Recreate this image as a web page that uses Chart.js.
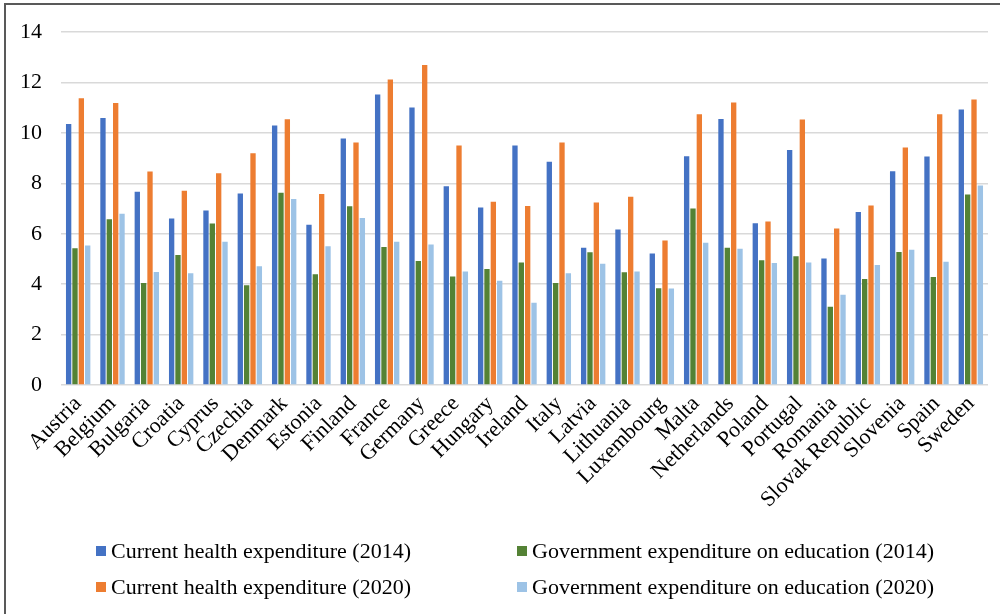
<!DOCTYPE html>
<html>
<head>
<meta charset="utf-8">
<script src="https://cdn.jsdelivr.net/npm/chart.js@4/dist/chart.umd.min.js"></script>
<style>
  html, body { margin: 0; padding: 0; background: #fff; }
  #wrap { position: relative; width: 1000px; height: 614px; overflow: hidden; font-family: "Liberation Serif", "Times New Roman", serif; }
  #frame { position: absolute; left: 4px; top: 3px; right: -10px; bottom: -10px; border-left: 2px solid #595959; border-top: 2px solid #595959; }
  #chart { position: absolute; left: 0; top: 0; }
  #legend { position: absolute; left: 0; top: 0; width: 1000px; height: 614px; pointer-events: none; }
  .item { position: absolute; display: flex; align-items: center; font-size: 22px; color: #000; white-space: nowrap; transform: translateY(-50%); }
  .box { width: 10px; height: 10px; margin-right: 5px; }
</style>
</head>
<body>
<div id="wrap">
  <div id="frame"></div>
  <canvas id="chart" width="1000" height="614"></canvas>
  <div id="legend"></div>
</div>
<script>
const countries = ["Austria", "Belgium", "Bulgaria", "Croatia", "Cyprus", "Czechia", "Denmark", "Estonia", "Finland", "France", "Germany", "Greece", "Hungary", "Ireland", "Italy", "Latvia", "Lithuania", "Luxembourg", "Malta", "Netherlands", "Poland", "Portugal", "Romania", "Slovak Republic", "Slovenia", "Spain", "Sweden"];

const health2014 = [10.36, 10.60, 7.67, 6.61, 6.92, 7.60, 10.30, 6.36, 9.78, 11.53, 11.01, 7.89, 7.04, 9.50, 8.86, 5.45, 6.17, 5.22, 9.08, 10.56, 6.42, 9.33, 5.02, 6.87, 8.48, 9.07, 10.93];
const edu2014 = [5.43, 6.58, 4.05, 5.16, 6.41, 3.96, 7.63, 4.39, 7.09, 5.48, 4.92, 4.31, 4.60, 4.86, 4.05, 5.27, 4.47, 3.84, 7.00, 5.45, 4.95, 5.11, 3.11, 4.21, 5.28, 4.29, 7.56];
const health2020 = [11.38, 11.19, 8.47, 7.71, 8.40, 9.20, 10.55, 7.58, 9.62, 12.12, 12.70, 9.50, 7.27, 7.10, 9.62, 7.24, 7.47, 5.73, 10.74, 11.21, 6.49, 10.54, 6.21, 7.12, 9.42, 10.74, 11.33];
const edu2020 = [5.54, 6.80, 4.48, 4.43, 5.68, 4.71, 7.38, 5.51, 6.63, 5.68, 5.58, 4.50, 4.14, 3.26, 4.43, 4.81, 4.50, 3.83, 5.64, 5.41, 4.84, 4.86, 3.58, 4.76, 5.37, 4.89, 7.92];

const seriesLabels = [
  "Current health expenditure (2014)",
  "Government expenditure on education (2014)",
  "Current health expenditure (2020)",
  "Government expenditure on education (2020)",
];
const seriesColors = ["#4472C4", "#548235", "#ED7D31", "#9DC3E6"];
const yTicks = [0, 2, 4, 6, 8, 10, 12, 14];

const serif = "'Liberation Serif', 'Times New Roman', serif";

const chart = new Chart(document.getElementById("chart"), {
  type: "bar",
  data: {
    labels: countries,
    datasets: [health2014, edu2014, health2020, edu2020].map((values, i) => ({
      label: seriesLabels[i],
      data: values,
      backgroundColor: seriesColors[i],
      borderWidth: 0,
      categoryPercentage: 0.74,
      barPercentage: 0.84,
    })),
  },
  options: {
    responsive: false,
    animation: false,
    layout: { padding: { left: 0, right: 12, top: 29, bottom: 0 } },
    plugins: {
      legend: { display: false },
      tooltip: { enabled: false },
    },
    scales: {
      x: {
        grid: { display: false, drawTicks: false },
        border: { display: false },
        ticks: {
          color: "#000",
          font: { family: serif, size: 22 },
          padding: 6,
          minRotation: 45,
          maxRotation: 45,
          autoSkip: false,
        },
        afterFit: (scale) => { scale.height = 229; },
      },
      y: {
        min: 0,
        max: 14,
        afterBuildTicks: (scale) => { scale.ticks = yTicks.map((v) => ({ value: v })); },
        grid: { color: "#D9D9D9", lineWidth: 1.5, drawTicks: false },
        border: { display: false },
        ticks: { color: "#000", font: { family: serif, size: 22 }, padding: 19 },
        afterFit: (scale) => { scale.width = 61; },
      },
    },
  },
});

// two-column legend below the axis labels
const legend = document.getElementById("legend");
const legendSpots = [
  { left: 96, top: 551 },
  { left: 517, top: 551 },
  { left: 96, top: 587 },
  { left: 517, top: 587 },
];
chart.data.datasets.forEach((ds, i) => {
  const item = document.createElement("div");
  item.className = "item";
  item.style.left = legendSpots[i].left + "px";
  item.style.top = legendSpots[i].top + "px";
  item.innerHTML = `<span class="box" style="background:${ds.backgroundColor}"></span><span>${ds.label}</span>`;
  legend.appendChild(item);
});
</script>
</body>
</html>
